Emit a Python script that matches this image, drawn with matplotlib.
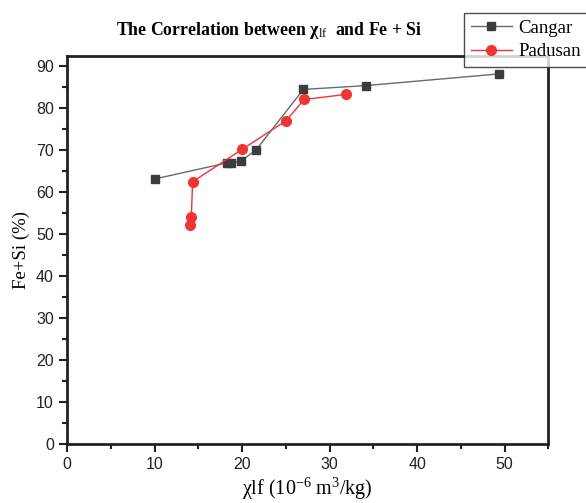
import numpy as np
import matplotlib.pyplot as plt
from matplotlib.ticker import MultipleLocator

# data
cangar_x = [10.1, 18.3, 18.7, 19.85, 21.6, 27.0, 34.1, 49.4]
cangar_y = [63.1, 66.9, 66.9, 67.3, 70.0, 84.4, 85.3, 88.1]
padusan_x = [14.05, 14.2, 14.35, 20.0, 25.0, 27.1, 31.85]
padusan_y = [52.1, 53.9, 62.4, 70.1, 76.9, 82.0, 83.2]

serif = ['Liberation Serif', 'DejaVu Serif']
sans = ['Liberation Sans', 'DejaVu Sans']

plt.rcParams['mathtext.fontset'] = 'custom'
plt.rcParams['mathtext.rm'] = 'Liberation Serif'
plt.rcParams['mathtext.it'] = 'Liberation Serif:italic'
plt.rcParams['mathtext.bf'] = 'Liberation Serif:bold'

fig = plt.figure(figsize=(5.86, 5.03), dpi=100)
ax = fig.add_axes([0.1143, 0.118, 0.8217, 0.771])

ax.plot(cangar_x, cangar_y, color='#6a6a6a', lw=1.0, marker='s', ms=6.3,
        mfc='#3c3c3c', mec='#3c3c3c', label='Cangar', zorder=3)
ax.plot(padusan_x, padusan_y, color='#f03434', lw=1.0, marker='o', ms=7,
        mfc='#f03434', mec='#f03434', label='Padusan', zorder=4)

ax.set_xlim(0, 55)
ax.set_ylim(0, 92.4)
ax.xaxis.set_major_locator(MultipleLocator(10))
ax.xaxis.set_minor_locator(MultipleLocator(5))
ax.yaxis.set_major_locator(MultipleLocator(10))
ax.yaxis.set_minor_locator(MultipleLocator(5))
ax.tick_params(which='major', direction='out', length=6, width=1.5, colors='#222222',
               labelsize=11.5)
ax.tick_params(which='minor', direction='out', length=3.5, width=1.5, colors='#222222')
for lab in ax.get_xticklabels() + ax.get_yticklabels():
    lab.set_family(sans)
for sp in ax.spines.values():
    sp.set_linewidth(2)
    sp.set_color('#222222')

ax.set_xlabel('χlf (10$^{\\mathrm{-6}}$ m$^{\\mathrm{3}}$/kg)', family=serif, fontsize=14.5,
              labelpad=3)
ax.set_ylabel('Fe+Si (%)', family=serif, fontsize=13.5, labelpad=4)

fig.text(0.46, 0.94, 'The Correlation between χ$_{\\mathrm{lf}}$  and Fe + Si',
         family=serif, fontweight='bold', fontsize=12.8, ha='center', va='center')

leg = fig.legend(loc='upper left', bbox_to_anchor=(464 / 586, 1 - 13 / 503),
                 prop={'family': serif, 'size': 13.5}, frameon=True, fancybox=False,
                 edgecolor='#222222', borderaxespad=0, handlelength=2.2,
                 handletextpad=0.35, borderpad=0.35, labelspacing=0.35)
leg.get_frame().set_linewidth(1.0)

fig.savefig('out.png', dpi=100)
